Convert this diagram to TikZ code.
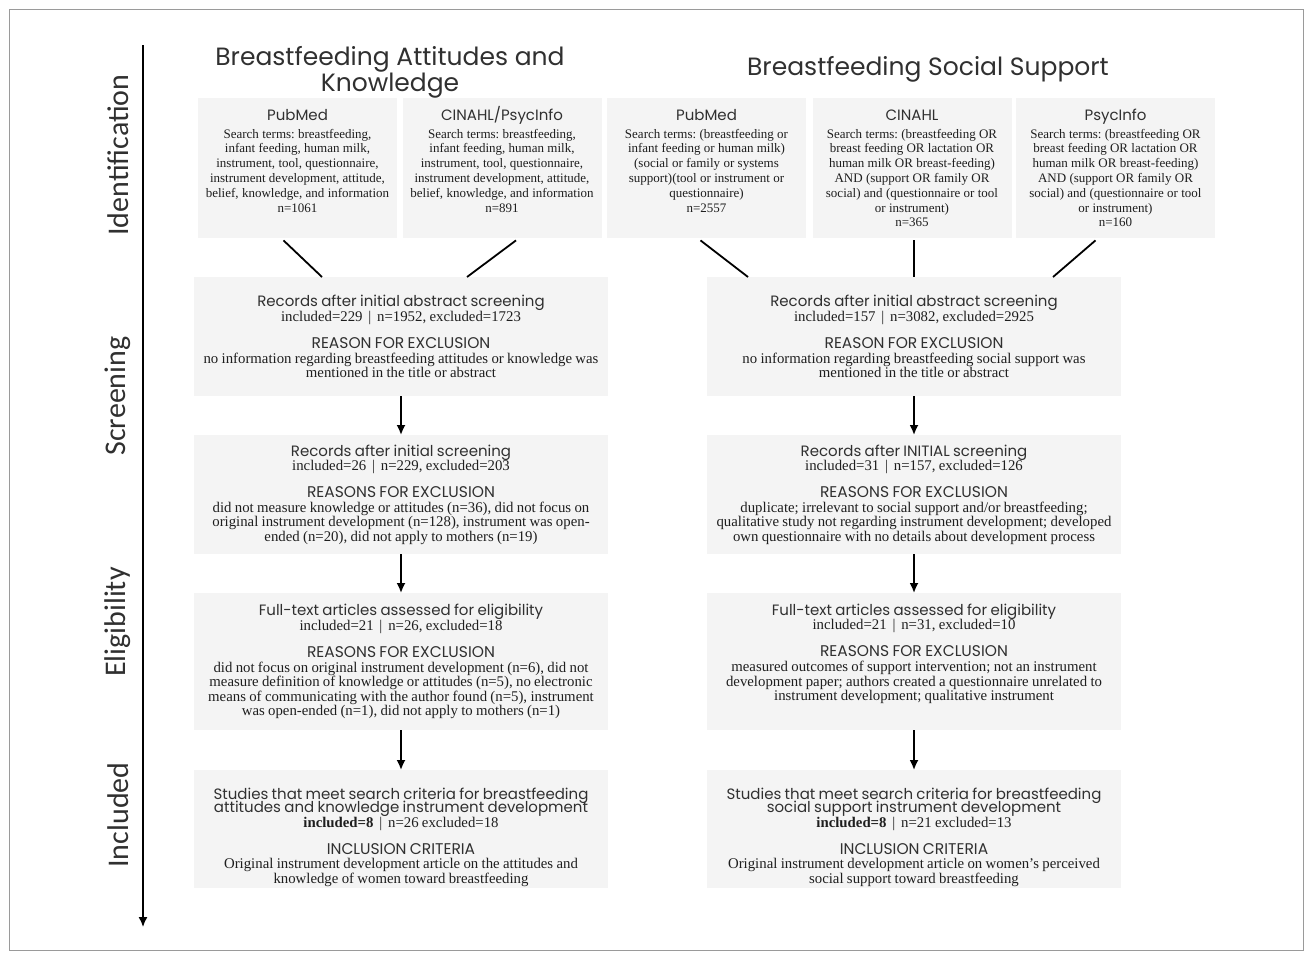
\documentclass[tikz,border=0pt]{standalone}
\usepackage{fontspec}
\setmainfont{Liberation Serif}
\setsansfont{Poppins}
\newfontfamily\phasefont{Carlito}
\usepackage{tikz}
\usetikzlibrary{arrows.meta}
\frenchspacing
\definecolor{boxgray}{HTML}{F4F4F4}
\definecolor{inkgray}{HTML}{303030}
\definecolor{bodygray}{HTML}{1E1E1E}
\definecolor{framegray}{HTML}{9A9A9A}
\newcommand{\HeadT}[1]{{\sffamily\fontsize{15}{16}\selectfont\color{inkgray}#1\par}}
\newcommand{\LongHeadT}[1]{{\sffamily\fontsize{15}{13.5}\selectfont\lineskiplimit=-20pt\color{inkgray}#1\par}}
\newcommand{\CapsT}[1]{{\sffamily\fontsize{15.5}{16}\selectfont\color{inkgray}#1\par}}
\newcommand{\SrcT}[1]{{\vspace{3pt}\fontsize{13}{14.8}\selectfont\color{bodygray}#1\par}}
\newcommand{\StageT}[1]{{\fontsize{14.8}{14.6}\selectfont\color{bodygray}#1\par}}
\newcommand{\GapT}{\vspace{11pt}}

\begin{document}
\begin{tikzpicture}[x=1pt,y=-1pt]
			\tikzstyle{srcbox} = [fill=boxgray, text width=199pt, inner sep=0pt,
				align=center, anchor=north, text height=22pt, text depth=118pt]
			\tikzstyle{stagebox} = [fill=boxgray, text width=414pt, inner sep=0pt,
				align=center, anchor=north]
			\tikzstyle{line} = [draw,line width=1.8pt]
			\tikzstyle{arrow} = [draw,-{Latex[length=10pt,width=9pt]},line width=1.8pt]
			\tikzstyle{phase} = [rotate=90, text=inkgray, font=\phasefont\fontsize{30}{32}\selectfont]
			\tikzstyle{title} = [align=center, text=inkgray, font=\sffamily\fontsize{25}{24}\selectfont]

			\useasboundingbox (0,0) rectangle (1312,959);
			\draw[framegray, line width=1pt] (9,9) rectangle (1303,950);

			% phases
			\coordinate (phaseTop) at (143,45);
			\coordinate (phaseBot) at (143,927);
			\draw[arrow, line width=1.5pt] (phaseTop) -- (phaseBot);
			\node(idLab)[phase] at (118,155) {Identification};
			\node(scrLab)[phase] at (118,396) {Screening};
			\node(eliLab)[phase] at (118,622) {Eligibility};
			\node(incLab)[phase] at (118,815) {Included};

			% column titles
			\node(titleA)[title] at (390,72.5) {Breastfeeding Attitudes and\\Knowledge};
			\node(titleB)[title] at (928,69) {Breastfeeding Social Support};

			% search sources
			\node(pubA)[srcbox] at (297.5,98) {\HeadT{PubMed}\SrcT{Search terms: breastfeeding,\\infant feeding, human milk,\\instrument, tool, questionnaire,\\instrument development, attitude,\\belief, knowledge, and information\\n=1061}};
			\node(cinA)[srcbox] at (502,98) {\HeadT{CINAHL/PsycInfo}\SrcT{Search terms: breastfeeding,\\infant feeding, human milk,\\instrument, tool, questionnaire,\\instrument development, attitude,\\belief, knowledge, and information\\n=891}};
			\node(pubB)[srcbox] at (706.5,98) {\HeadT{PubMed}\SrcT{Search terms: (breastfeeding or\\infant feeding or human milk)\\(social or family or systems\\support)(tool or instrument or\\questionnaire)\\n=2557}};
			\node(cinB)[srcbox] at (912,98) {\HeadT{CINAHL}\SrcT{Search terms: (breastfeeding OR\\breast feeding OR lactation OR\\human milk OR breast-feeding)\\AND (support OR family OR\\social) and (questionnaire or tool\\or instrument)\\n=365}};
			\node(psyB)[srcbox] at (1115.5,98) {\HeadT{PsycInfo}\SrcT{Search terms: (breastfeeding OR\\breast feeding OR lactation OR\\human milk OR breast-feeding)\\AND (support OR family OR\\social) and (questionnaire or tool\\or instrument)\\n=160}};

			% attitudes and knowledge
			\node(scrA)[stagebox, minimum height=119pt] at (401,277) {\HeadT{Records after initial abstract screening}\StageT{included=229 \,|\, n=1952, excluded=1723}\GapT\CapsT{REASON FOR EXCLUSION}\StageT{no information regarding breastfeeding attitudes or knowledge was\\mentioned in the title or abstract}};
			\node(iniA)[stagebox, minimum height=119pt] at (401,435) {\HeadT{Records after initial screening}\StageT{included=26 \,|\, n=229, excluded=203}\GapT\CapsT{REASONS FOR EXCLUSION}\StageT{did not measure knowledge or attitudes (n=36), did not focus on\\original instrument development (n=128), instrument was open-\\ended (n=20), did not apply to mothers (n=19)}};
			\node(fullA)[stagebox, minimum height=137pt] at (401,593) {\HeadT{Full-text articles assessed for eligibility}\StageT{included=21 \,|\, n=26, excluded=18}\GapT\CapsT{REASONS FOR EXCLUSION}\StageT{did not focus on original instrument development (n=6), did not\\measure definition of knowledge or attitudes (n=5), no electronic\\means of communicating with the author found (n=5), instrument\\was open-ended (n=1), did not apply to mothers (n=1)}};
			\node(inclA)[stagebox, text height=29pt, text depth=89pt] at (401,770) {\LongHeadT{Studies that meet search criteria for breastfeeding\\attitudes and knowledge instrument development}\StageT{\textbf{included=8} \,|\, n=26 excluded=18}\GapT\CapsT{INCLUSION CRITERIA}\StageT{Original instrument development article on the attitudes and\\knowledge of women toward breastfeeding}};

			% social support
			\node(scrB)[stagebox, minimum height=119pt] at (914,277) {\HeadT{Records after initial abstract screening}\StageT{included=157 \,|\, n=3082, excluded=2925}\GapT\CapsT{REASON FOR EXCLUSION}\StageT{no information regarding breastfeeding social support was\\mentioned in the title or abstract}};
			\node(iniB)[stagebox, minimum height=119pt] at (914,435) {\HeadT{Records after INITIAL screening}\StageT{included=31 \,|\, n=157, excluded=126}\GapT\CapsT{REASONS FOR EXCLUSION}\StageT{duplicate; irrelevant to social support and/or breastfeeding;\\qualitative study not regarding instrument development; developed\\own questionnaire with no details about development process}};
			\node(fullB)[stagebox, text height=22pt, text depth=115pt] at (914,593) {\HeadT{Full-text articles assessed for eligibility}\StageT{included=21 \,|\, n=31, excluded=10}\GapT\CapsT{REASONS FOR EXCLUSION}\StageT{measured outcomes of support intervention; not an instrument\\development paper; authors created a questionnaire unrelated to\\instrument development; qualitative instrument}};
			\node(inclB)[stagebox, text height=29pt, text depth=89pt] at (914,770) {\LongHeadT{Studies that meet search criteria for breastfeeding\\social support instrument development}\StageT{\textbf{included=8} \,|\, n=21 excluded=13}\GapT\CapsT{INCLUSION CRITERIA}\StageT{Original instrument development article on women's perceived\\social support toward breastfeeding}};

			% merging lines
			\draw[line] ([xshift=-14pt,yshift=-2pt]pubA.south) -- ([xshift=-79pt]scrA.north);
			\draw[line] ([xshift=14pt,yshift=-2pt]cinA.south) -- ([xshift=66pt]scrA.north);
			\draw[line] ([xshift=-6pt,yshift=-2pt]pubB.south) -- ([xshift=-166pt]scrB.north);
			\draw[line] ([xshift=2pt,yshift=-2pt]cinB.south) -- (scrB.north);
			\draw[line] ([xshift=-20pt,yshift=-2pt]psyB.south) -- ([xshift=139pt]scrB.north);

			% flow
			\draw[arrow] (scrA.south) -- (iniA.north);
			\draw[arrow] (iniA.south) -- (fullA.north);
			\draw[arrow] (fullA.south) -- (inclA.north);
			\draw[arrow] (scrB.south) -- (iniB.north);
			\draw[arrow] (iniB.south) -- (fullB.north);
			\draw[arrow] (fullB.south) -- (inclB.north);

		\end{tikzpicture}
\end{document}
